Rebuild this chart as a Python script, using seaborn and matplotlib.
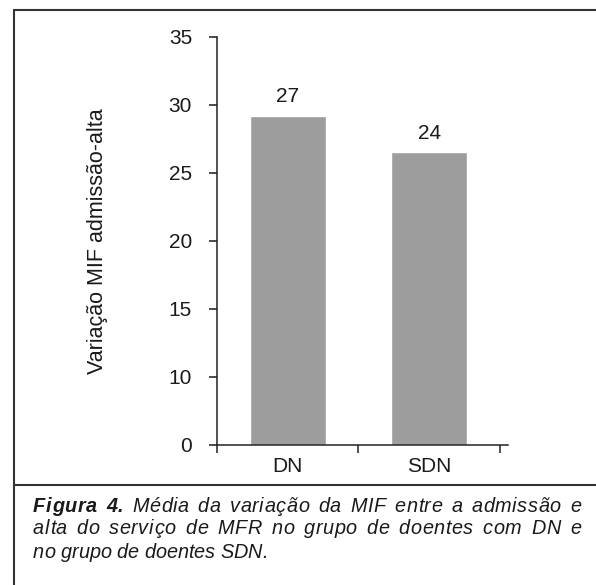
import matplotlib
matplotlib.use("Agg")
import matplotlib.pyplot as plt
from matplotlib.lines import Line2D
from matplotlib.font_manager import FontProperties
import seaborn as sns
import pandas as pd

# data (bar heights in axis units, labels as printed)
categories = ["DN", "SDN"]
bar_heights = [24.2, 21.5]
value_labels = ["27", "24"]
ytick_values = [0, 5, 10, 15, 20, 25, 30]
ytick_labels = ["0", "10", "15", "20", "25", "30", "35"]
ylabel = "Variação MIF admissão-alta"
caption_bold = "Figura 4."
caption_lines = [
    "Média da variação da MIF entre a admissão e",
    "alta do serviço de MFR no grupo de doentes com DN e",
    "no grupo de doentes SDN.",
]

sns.set_style("white")
plt.rcParams["font.family"] = ["Liberation Sans", "DejaVu Sans"]

W, H = 596, 585
fig = plt.figure(figsize=(W / 100, H / 100), dpi=100)
ax = fig.add_axes([217 / W, 1 - 445 / H, (508 - 217) / W, (445 - 36.7) / H])

df = pd.DataFrame({"cat": categories, "val": bar_heights})
sns.barplot(data=df, x="cat", y="val", color="#9d9d9d", saturation=1,
            width=0.54, ax=ax)

fs = 15
for i, lab in enumerate(value_labels):
    ax.annotate(lab, (i, bar_heights[i]), xytext=(0, 7), textcoords="offset points",
                ha="center", va="bottom", fontsize=fs, color="#1a1a1a")

ax.set_xlim(-0.5, 1.557)
ax.set_ylim(0, 30)
ax.set_yticks(ytick_values)
ax.set_yticklabels(ytick_labels)
ax.set_xticks([0, 1])
ax.set_xticklabels(categories)
ax.set_xticks([-0.5, 0.5, 1.5], minor=True)
ax.tick_params(axis="x", which="major", length=0, pad=9, labelsize=fs,
               colors="#1a1a1a")
ax.tick_params(axis="x", which="minor", length=6, width=1.1, direction="out",
               bottom=True, color="#222222")
ax.tick_params(axis="y", length=6, width=1.1, direction="out", left=True,
               pad=12, labelsize=fs, colors="#1a1a1a")
ax.set_xlabel("")
ax.set_ylabel(ylabel, fontsize=15.5, color="#1a1a1a")
ax.yaxis.set_label_coords(-0.3746, 0.5)

for side in ["top", "right"]:
    ax.spines[side].set_visible(False)
for side in ["left", "bottom"]:
    ax.spines[side].set_color("#222222")
    ax.spines[side].set_linewidth(1.1)

# frame lines around the figure and the caption separator
frame_kw = dict(transform=fig.transFigure, color="#333333", linewidth=1.5)
fig.add_artist(Line2D([14 / W, 1], [1 - 10 / H, 1 - 10 / H], **frame_kw))
fig.add_artist(Line2D([14 / W, 14 / W], [1 - 10 / H, 0], **frame_kw))
fig.add_artist(Line2D([14 / W, 1], [1 - 485 / H, 1 - 485 / H], **frame_kw))

# caption: justified between x=33 and x=581 (last line left aligned),
# stretch shared between letter spacing and word spacing like the print
cap_size = 14.3
x_left, x_right = 33, 581
line_y = [506, 529, 552]
fig.canvas.draw()
renderer = fig.canvas.get_renderer()
prop_n = FontProperties(family="Liberation Sans", style="italic", size=cap_size)
prop_b = FontProperties(family="Liberation Sans", style="italic", weight="bold",
                        size=cap_size)
space_px = 0.278 * cap_size * 100 / 72

lines = [[(w, True) for w in caption_bold.split()] + [(w, False) for w in caption_lines[0].split()],
         [(w, False) for w in caption_lines[1].split()],
         [(w, False) for w in caption_lines[2].split()]]


def char_width(c, prop):
    # advance of a character, measured through a pair so that italics behave
    w2 = renderer.get_text_width_height_descent("x" + c + "x", prop, ismath=False)[0]
    w1 = renderer.get_text_width_height_descent("xx", prop, ismath=False)[0]
    return w2 - w1


for k, (y, words) in enumerate(zip(line_y, lines)):
    widths = [[char_width(c, prop_b if b else prop_n) for c in w] for w, b in words]
    natural = sum(sum(ws) for ws in widths) + space_px * (len(words) - 1)
    n_char_gaps = sum(len(w) - 1 for w, _ in words)
    n_word_gaps = len(words) - 1
    if k < len(lines) - 1:
        t = (x_right - x_left - natural) / (n_char_gaps + 6 * n_word_gaps)
    else:
        t = 0.0
    x = x_left
    for (w, b), ws in zip(words, widths):
        for c, cw in zip(w, ws):
            fig.text(x / W, 1 - y / H, c, fontproperties=prop_b if b else prop_n,
                     va="center", ha="left", color="#1a1a1a")
            x += cw + t
        x += space_px + 5 * t

fig.savefig("out.png", dpi=100)
